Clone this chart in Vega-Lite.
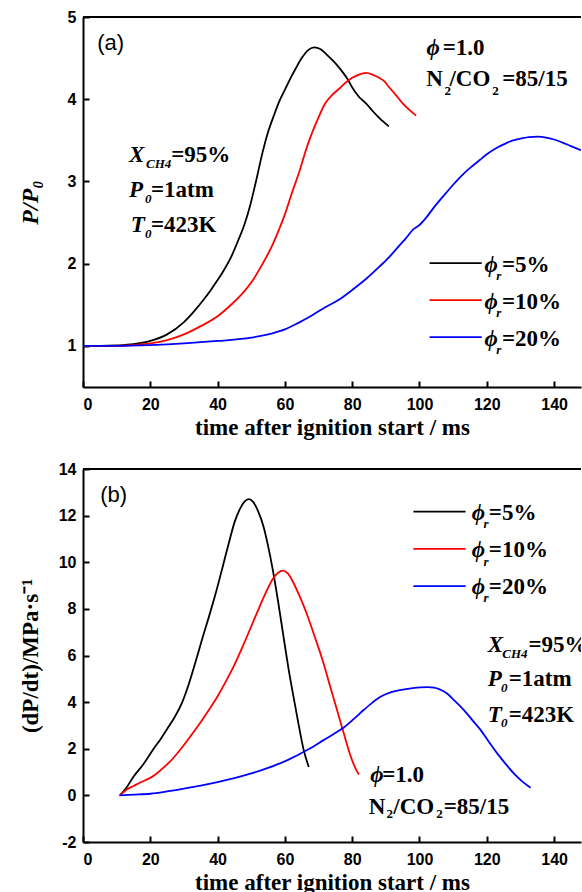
{
  "$schema": "https://vega.github.io/schema/vega-lite/v6.json",
  "autosize": {"type": "pad"},
  "padding": {"left": 18, "top": 9, "right": 0, "bottom": 0},
  "spacing": 22,
  "config": {
    "view": {"stroke": null},
    "axis": {
      "domainColor": "#000", "domainWidth": 2, "tickColor": "#000", "tickWidth": 2, "tickSize": -6,
      "grid": false, "labelFont": "Liberation Sans", "labelFontWeight": "bold", "labelFontSize": 16,
      "labelColor": "#000", "titleFont": "Liberation Serif", "titleFontWeight": "bold",
      "titleColor": "#000", "titleFontSize": 23
    },
    "axisX": {"labelPadding": 15, "titlePadding": 4},
    "axisY": {"labelPadding": 13},
    "text": {"font": "Liberation Serif", "fontWeight": "bold", "fontSize": 23, "fill": "#000", "align": "left", "baseline": "alphabetic"}
  },
  "datasets": {
    "curvesA": [
      {"series": "5%", "t": 0, "v": 1.0}, {"series": "5%", "t": 5, "v": 1.0}, {"series": "5%", "t": 10, "v": 1.005},
      {"series": "5%", "t": 15, "v": 1.02}, {"series": "5%", "t": 20, "v": 1.06}, {"series": "5%", "t": 25, "v": 1.14},
      {"series": "5%", "t": 30, "v": 1.29}, {"series": "5%", "t": 33, "v": 1.42}, {"series": "5%", "t": 36, "v": 1.57},
      {"series": "5%", "t": 38, "v": 1.68}, {"series": "5%", "t": 40, "v": 1.8}, {"series": "5%", "t": 42, "v": 1.93},
      {"series": "5%", "t": 44, "v": 2.08}, {"series": "5%", "t": 46, "v": 2.27}, {"series": "5%", "t": 48, "v": 2.48},
      {"series": "5%", "t": 49.5, "v": 2.68}, {"series": "5%", "t": 51.4, "v": 3.0}, {"series": "5%", "t": 53.4, "v": 3.36},
      {"series": "5%", "t": 55, "v": 3.6}, {"series": "5%", "t": 56.8, "v": 3.81}, {"series": "5%", "t": 58.3, "v": 3.97},
      {"series": "5%", "t": 60.3, "v": 4.14}, {"series": "5%", "t": 62, "v": 4.28}, {"series": "5%", "t": 63.3, "v": 4.38},
      {"series": "5%", "t": 65, "v": 4.5}, {"series": "5%", "t": 67, "v": 4.6}, {"series": "5%", "t": 68.8, "v": 4.63},
      {"series": "5%", "t": 70.5, "v": 4.61}, {"series": "5%", "t": 72.5, "v": 4.54}, {"series": "5%", "t": 74.5, "v": 4.46},
      {"series": "5%", "t": 76.2, "v": 4.38}, {"series": "5%", "t": 78.7, "v": 4.24}, {"series": "5%", "t": 80.2, "v": 4.13},
      {"series": "5%", "t": 82, "v": 4.03}, {"series": "5%", "t": 84.1, "v": 3.95}, {"series": "5%", "t": 86, "v": 3.86},
      {"series": "5%", "t": 88.1, "v": 3.77}, {"series": "5%", "t": 90.9, "v": 3.67},
      {"series": "10%", "t": 0, "v": 1.0}, {"series": "10%", "t": 10, "v": 1.0}, {"series": "10%", "t": 15, "v": 1.01},
      {"series": "10%", "t": 20, "v": 1.03}, {"series": "10%", "t": 25, "v": 1.07}, {"series": "10%", "t": 30, "v": 1.14},
      {"series": "10%", "t": 35, "v": 1.24}, {"series": "10%", "t": 40, "v": 1.36}, {"series": "10%", "t": 44, "v": 1.5},
      {"series": "10%", "t": 47, "v": 1.62}, {"series": "10%", "t": 50, "v": 1.77}, {"series": "10%", "t": 53.4, "v": 2.0},
      {"series": "10%", "t": 56, "v": 2.2}, {"series": "10%", "t": 58.3, "v": 2.42}, {"series": "10%", "t": 60, "v": 2.6},
      {"series": "10%", "t": 62, "v": 2.85}, {"series": "10%", "t": 64.3, "v": 3.12}, {"series": "10%", "t": 66, "v": 3.35},
      {"series": "10%", "t": 67.5, "v": 3.53}, {"series": "10%", "t": 70, "v": 3.78}, {"series": "10%", "t": 72, "v": 3.95},
      {"series": "10%", "t": 74, "v": 4.05}, {"series": "10%", "t": 76.2, "v": 4.13}, {"series": "10%", "t": 78, "v": 4.2},
      {"series": "10%", "t": 80, "v": 4.26}, {"series": "10%", "t": 82, "v": 4.3}, {"series": "10%", "t": 84.1, "v": 4.32},
      {"series": "10%", "t": 86, "v": 4.3}, {"series": "10%", "t": 88, "v": 4.26}, {"series": "10%", "t": 89.5, "v": 4.22},
      {"series": "10%", "t": 91.1, "v": 4.14}, {"series": "10%", "t": 93, "v": 4.05}, {"series": "10%", "t": 95, "v": 3.95},
      {"series": "10%", "t": 97, "v": 3.87}, {"series": "10%", "t": 99, "v": 3.8},
      {"series": "20%", "t": 0, "v": 1.0}, {"series": "20%", "t": 10, "v": 1.0}, {"series": "20%", "t": 20, "v": 1.01},
      {"series": "20%", "t": 30, "v": 1.03}, {"series": "20%", "t": 40, "v": 1.06}, {"series": "20%", "t": 50, "v": 1.1},
      {"series": "20%", "t": 56, "v": 1.15}, {"series": "20%", "t": 60, "v": 1.2}, {"series": "20%", "t": 64, "v": 1.28},
      {"series": "20%", "t": 68, "v": 1.37}, {"series": "20%", "t": 72, "v": 1.47}, {"series": "20%", "t": 76, "v": 1.56},
      {"series": "20%", "t": 80, "v": 1.68}, {"series": "20%", "t": 84, "v": 1.81}, {"series": "20%", "t": 88, "v": 1.96},
      {"series": "20%", "t": 91, "v": 2.08}, {"series": "20%", "t": 94, "v": 2.22}, {"series": "20%", "t": 96, "v": 2.31},
      {"series": "20%", "t": 98, "v": 2.41}, {"series": "20%", "t": 100, "v": 2.47}, {"series": "20%", "t": 102, "v": 2.56},
      {"series": "20%", "t": 104, "v": 2.67}, {"series": "20%", "t": 106, "v": 2.77}, {"series": "20%", "t": 107.9, "v": 2.86},
      {"series": "20%", "t": 110, "v": 2.96}, {"series": "20%", "t": 113, "v": 3.09}, {"series": "20%", "t": 115.5, "v": 3.18},
      {"series": "20%", "t": 117.9, "v": 3.26}, {"series": "20%", "t": 120, "v": 3.33}, {"series": "20%", "t": 123, "v": 3.41},
      {"series": "20%", "t": 125.5, "v": 3.46}, {"series": "20%", "t": 127.8, "v": 3.5}, {"series": "20%", "t": 130, "v": 3.52},
      {"series": "20%", "t": 132.5, "v": 3.54}, {"series": "20%", "t": 135.2, "v": 3.545}, {"series": "20%", "t": 138, "v": 3.53},
      {"series": "20%", "t": 140, "v": 3.51}, {"series": "20%", "t": 142.7, "v": 3.47}, {"series": "20%", "t": 145, "v": 3.43},
      {"series": "20%", "t": 148, "v": 3.38}
    ],
    "curvesB": [
      {"series": "5%", "t": 11, "v": 0}, {"series": "5%", "t": 13, "v": 0.35}, {"series": "5%", "t": 15, "v": 0.8},
      {"series": "5%", "t": 18, "v": 1.35}, {"series": "5%", "t": 21, "v": 2.0}, {"series": "5%", "t": 23, "v": 2.4},
      {"series": "5%", "t": 25, "v": 2.85}, {"series": "5%", "t": 27, "v": 3.3}, {"series": "5%", "t": 29.5, "v": 4.0},
      {"series": "5%", "t": 31.5, "v": 4.8}, {"series": "5%", "t": 33.5, "v": 5.75}, {"series": "5%", "t": 35.5, "v": 6.75},
      {"series": "5%", "t": 37.5, "v": 7.7}, {"series": "5%", "t": 39.5, "v": 8.7}, {"series": "5%", "t": 41.5, "v": 9.8},
      {"series": "5%", "t": 43.3, "v": 10.8}, {"series": "5%", "t": 45, "v": 11.7}, {"series": "5%", "t": 46.5, "v": 12.25},
      {"series": "5%", "t": 48, "v": 12.6}, {"series": "5%", "t": 49.2, "v": 12.71},
      {"series": "5%", "t": 50.5, "v": 12.6}, {"series": "5%", "t": 52, "v": 12.2}, {"series": "5%", "t": 53.7, "v": 11.5},
      {"series": "5%", "t": 55, "v": 10.7}, {"series": "5%", "t": 56.5, "v": 9.6}, {"series": "5%", "t": 58, "v": 8.3},
      {"series": "5%", "t": 59.6, "v": 6.8}, {"series": "5%", "t": 61, "v": 5.5}, {"series": "5%", "t": 62.6, "v": 4.2},
      {"series": "5%", "t": 64, "v": 3.1}, {"series": "5%", "t": 65.6, "v": 1.94}, {"series": "5%", "t": 67.1, "v": 1.22},
      {"series": "10%", "t": 11, "v": 0}, {"series": "10%", "t": 13, "v": 0.25}, {"series": "10%", "t": 15, "v": 0.4},
      {"series": "10%", "t": 17, "v": 0.55}, {"series": "10%", "t": 20, "v": 0.75}, {"series": "10%", "t": 22, "v": 0.95},
      {"series": "10%", "t": 24, "v": 1.2}, {"series": "10%", "t": 26.5, "v": 1.55}, {"series": "10%", "t": 29, "v": 1.98},
      {"series": "10%", "t": 32, "v": 2.55}, {"series": "10%", "t": 35, "v": 3.15}, {"series": "10%", "t": 37.5, "v": 3.68},
      {"series": "10%", "t": 40, "v": 4.25}, {"series": "10%", "t": 42.5, "v": 4.9}, {"series": "10%", "t": 45, "v": 5.6},
      {"series": "10%", "t": 47.5, "v": 6.4}, {"series": "10%", "t": 50, "v": 7.25}, {"series": "10%", "t": 52.5, "v": 8.1},
      {"series": "10%", "t": 54.5, "v": 8.75}, {"series": "10%", "t": 56.5, "v": 9.3}, {"series": "10%", "t": 58, "v": 9.55},
      {"series": "10%", "t": 59.4, "v": 9.64}, {"series": "10%", "t": 61, "v": 9.5}, {"series": "10%", "t": 62.6, "v": 9.1},
      {"series": "10%", "t": 64.5, "v": 8.5}, {"series": "10%", "t": 66.6, "v": 7.75}, {"series": "10%", "t": 69, "v": 6.75},
      {"series": "10%", "t": 71.5, "v": 5.66}, {"series": "10%", "t": 73.5, "v": 4.65}, {"series": "10%", "t": 75.5, "v": 3.66},
      {"series": "10%", "t": 77.5, "v": 2.66}, {"series": "10%", "t": 79.5, "v": 1.7}, {"series": "10%", "t": 81, "v": 1.15},
      {"series": "10%", "t": 82, "v": 0.9},
      {"series": "20%", "t": 10.8, "v": 0}, {"series": "20%", "t": 15, "v": 0.03}, {"series": "20%", "t": 20, "v": 0.07},
      {"series": "20%", "t": 25, "v": 0.17}, {"series": "20%", "t": 30, "v": 0.29}, {"series": "20%", "t": 35, "v": 0.42},
      {"series": "20%", "t": 40, "v": 0.57}, {"series": "20%", "t": 45, "v": 0.74}, {"series": "20%", "t": 50, "v": 0.94},
      {"series": "20%", "t": 55, "v": 1.18}, {"series": "20%", "t": 59.6, "v": 1.44}, {"series": "20%", "t": 62, "v": 1.6},
      {"series": "20%", "t": 65.6, "v": 1.87}, {"series": "20%", "t": 68.5, "v": 2.1}, {"series": "20%", "t": 71.5, "v": 2.37},
      {"series": "20%", "t": 74.5, "v": 2.63}, {"series": "20%", "t": 77.5, "v": 2.91}, {"series": "20%", "t": 80.5, "v": 3.28},
      {"series": "20%", "t": 83.4, "v": 3.66}, {"series": "20%", "t": 86, "v": 3.98}, {"series": "20%", "t": 88.4, "v": 4.23},
      {"series": "20%", "t": 91, "v": 4.4}, {"series": "20%", "t": 93.4, "v": 4.49}, {"series": "20%", "t": 96, "v": 4.56},
      {"series": "20%", "t": 98, "v": 4.6}, {"series": "20%", "t": 100.3, "v": 4.63}, {"series": "20%", "t": 102.5, "v": 4.64},
      {"series": "20%", "t": 104.3, "v": 4.62}, {"series": "20%", "t": 106, "v": 4.55}, {"series": "20%", "t": 108.2, "v": 4.37},
      {"series": "20%", "t": 110.5, "v": 4.05}, {"series": "20%", "t": 113.2, "v": 3.66}, {"series": "20%", "t": 115.7, "v": 3.23},
      {"series": "20%", "t": 118.2, "v": 2.8}, {"series": "20%", "t": 120.6, "v": 2.3}, {"series": "20%", "t": 123.1, "v": 1.8},
      {"series": "20%", "t": 125.6, "v": 1.35}, {"series": "20%", "t": 128.1, "v": 0.93}, {"series": "20%", "t": 130.5, "v": 0.6},
      {"series": "20%", "t": 133, "v": 0.33}
    ],
    "legendA": [
      {"series": "5%", "t": 103, "t2": 118.5, "v": 2.007},
      {"series": "10%", "t": 103, "t2": 118.5, "v": 1.557},
      {"series": "20%", "t": 103, "t2": 118.5, "v": 1.107}
    ],
    "legendB": [
      {"series": "5%", "t": 98.2, "t2": 113.7, "v": 12.17},
      {"series": "10%", "t": 98.2, "t2": 113.7, "v": 10.57},
      {"series": "20%", "t": 98.2, "t2": 113.7, "v": 8.98}
    ],
    "a_main": [
      {"t": 26.2, "v": 3.236, "text": "=95%"}, {"t": 20.2, "v": 2.81, "text": "=1atm"}, {"t": 20.2, "v": 2.384, "text": "=423K"},
      {"t": 106.9, "v": 4.538, "text": "=1.0"}, {"t": 102.0, "v": 4.16, "text": "N"}, {"t": 108.9, "v": 4.16, "text": "/CO"},
      {"t": 124.6, "v": 4.16, "text": "=85/15"},
      {"t": 124.5, "v": 1.901, "text": "=5%"}, {"t": 124.5, "v": 1.451, "text": "=10%"}, {"t": 124.5, "v": 1.001, "text": "=20%"}
    ],
    "a_ital": [
      {"t": 13.7, "v": 3.236, "text": "X"}, {"t": 13.7, "v": 2.81, "text": "P"}, {"t": 14.2, "v": 2.384, "text": "T"},
      {"t": 102.1, "v": 4.538, "text": "ϕ"},
      {"t": 119.3, "v": 1.901, "text": "ϕ"}, {"t": 119.3, "v": 1.451, "text": "ϕ"}, {"t": 119.3, "v": 1.001, "text": "ϕ"}
    ],
    "a_subi": [
      {"t": 18.75, "v": 3.163, "text": "CH4"}, {"t": 18.4, "v": 2.737, "text": "0"}, {"t": 18.4, "v": 2.31, "text": "0"},
      {"t": 122.8, "v": 1.8, "text": "r"}, {"t": 122.8, "v": 1.35, "text": "r"}, {"t": 122.8, "v": 0.9, "text": "r"}
    ],
    "a_sub": [
      {"t": 107.4, "v": 4.05, "text": "2"}, {"t": 121.6, "v": 4.05, "text": "2"}
    ],
    "a_tag": [{"t": 4.2, "v": 4.6, "text": "(a)"}],
    "b_main": [
      {"t": 132.4, "v": 6.16, "text": "=95%"}, {"t": 126.5, "v": 4.69, "text": "=1atm"}, {"t": 126.5, "v": 3.15, "text": "=423K"},
      {"t": 88.9, "v": 0.58, "text": "=1.0"}, {"t": 84.9, "v": -0.78, "text": "N"}, {"t": 92.2, "v": -0.78, "text": "/CO"},
      {"t": 107.2, "v": -0.78, "text": "=85/15"},
      {"t": 120.6, "v": 11.81, "text": "=5%"}, {"t": 120.6, "v": 10.22, "text": "=10%"}, {"t": 120.6, "v": 8.64, "text": "=20%"}
    ],
    "b_ital": [
      {"t": 120.3, "v": 6.16, "text": "X"}, {"t": 120.3, "v": 4.69, "text": "P"}, {"t": 120.3, "v": 3.15, "text": "T"},
      {"t": 85.4, "v": 0.58, "text": "ϕ"},
      {"t": 115.5, "v": 11.81, "text": "ϕ"}, {"t": 115.5, "v": 10.22, "text": "ϕ"}, {"t": 115.5, "v": 8.64, "text": "ϕ"}
    ],
    "b_subi": [
      {"t": 124.6, "v": 5.89, "text": "CH4"}, {"t": 124.2, "v": 4.44, "text": "0"}, {"t": 124.2, "v": 2.93, "text": "0"},
      {"t": 119.0, "v": 11.45, "text": "r"}, {"t": 119.0, "v": 9.86, "text": "r"}, {"t": 119.0, "v": 8.28, "text": "r"}
    ],
    "b_sub": [
      {"t": 90.2, "v": -0.99, "text": "2"}, {"t": 105.0, "v": -0.99, "text": "2"}
    ],
    "b_tag": [{"t": 5.1, "v": 12.6, "text": "(b)"}]
  },
  "vconcat": [
    {
      "width": 498, "height": 370,
      "layer": [
        {
          "data": {"name": "curvesA"},
          "mark": {"type": "line", "strokeWidth": 1.8, "clip": true, "interpolate": "monotone"},
          "encoding": {
            "x": {"field": "t", "type": "quantitative", "scale": {"domain": [0, 148], "nice": false, "zero": false},
                  "axis": {"values": [0, 20, 40, 60, 80, 100, 120, 140], "title": "time after ignition start / ms"}},
            "y": {"field": "v", "type": "quantitative", "scale": {"domain": [0.5, 5], "nice": false, "zero": false},
                  "axis": {"values": [1, 2, 3, 4, 5], "labelExpr": "datum.value", "title": "P/P₀", "titleFontStyle": "italic", "titleFontSize": 24, "titleX": -53, "titleBaseline": "middle"}},
            "color": {"field": "series", "type": "nominal", "scale": {"domain": ["5%", "10%", "20%"], "range": ["#000000", "#ff0000", "#0000ff"]}, "legend": null},
            "order": {"field": "t", "type": "quantitative"}
          }
        },
        {
          "data": {"values": [{"edge": "top"}]},
          "mark": {"type": "rule", "color": "#000", "strokeWidth": 2},
          "encoding": {"y": {"datum": 5, "type": "quantitative"}}
        },
        {
          "data": {"name": "legendA"},
          "mark": {"type": "rule", "strokeWidth": 1.8},
          "encoding": {
            "x": {"field": "t", "type": "quantitative"}, "x2": {"field": "t2"},
            "y": {"field": "v", "type": "quantitative"},
            "color": {"field": "series", "type": "nominal", "legend": null}
          }
        },
        {
          "data": {"name": "a_main"},
          "mark": {"type": "text"},
          "encoding": {"x": {"field": "t", "type": "quantitative"}, "y": {"field": "v", "type": "quantitative"}, "text": {"field": "text"}}
        },
        {
          "data": {"name": "a_ital"},
          "mark": {"type": "text", "fontStyle": "italic"},
          "encoding": {"x": {"field": "t", "type": "quantitative"}, "y": {"field": "v", "type": "quantitative"}, "text": {"field": "text"}}
        },
        {
          "data": {"name": "a_subi"},
          "mark": {"type": "text", "fontStyle": "italic", "fontSize": 13},
          "encoding": {"x": {"field": "t", "type": "quantitative"}, "y": {"field": "v", "type": "quantitative"}, "text": {"field": "text"}}
        },
        {
          "data": {"name": "a_sub"},
          "mark": {"type": "text", "fontSize": 13},
          "encoding": {"x": {"field": "t", "type": "quantitative"}, "y": {"field": "v", "type": "quantitative"}, "text": {"field": "text"}}
        },
        {
          "data": {"name": "a_tag"},
          "mark": {"type": "text", "font": "Liberation Sans", "fontWeight": "normal", "fontSize": 22},
          "encoding": {"x": {"field": "t", "type": "quantitative"}, "y": {"field": "v", "type": "quantitative"}, "text": {"field": "text"}}
        }
      ]
    },
    {
      "width": 498, "height": 373,
      "layer": [
        {
          "data": {"name": "curvesB"},
          "mark": {"type": "line", "strokeWidth": 1.8, "clip": true, "interpolate": "monotone"},
          "encoding": {
            "x": {"field": "t", "type": "quantitative", "scale": {"domain": [0, 148], "nice": false, "zero": false},
                  "axis": {"values": [0, 20, 40, 60, 80, 100, 120, 140], "title": "time after ignition start / ms"}},
            "y": {"field": "v", "type": "quantitative", "scale": {"domain": [-2, 14], "nice": false, "zero": false},
                  "axis": {"values": [-2, 0, 2, 4, 6, 8, 10, 12, 14], "labelExpr": "datum.value", "title": "(dP/dt)/MPa·s⁻¹", "titleX": -53, "titleBaseline": "middle"}},
            "color": {"field": "series", "type": "nominal", "scale": {"domain": ["5%", "10%", "20%"], "range": ["#000000", "#ff0000", "#0000ff"]}, "legend": null},
            "order": {"field": "t", "type": "quantitative"}
          }
        },
        {
          "data": {"values": [{"edge": "top"}]},
          "mark": {"type": "rule", "color": "#000", "strokeWidth": 2},
          "encoding": {"y": {"datum": 14, "type": "quantitative"}}
        },
        {
          "data": {"name": "legendB"},
          "mark": {"type": "rule", "strokeWidth": 1.8},
          "encoding": {
            "x": {"field": "t", "type": "quantitative"}, "x2": {"field": "t2"},
            "y": {"field": "v", "type": "quantitative"},
            "color": {"field": "series", "type": "nominal", "legend": null}
          }
        },
        {
          "data": {"name": "b_main"},
          "mark": {"type": "text", "clip": true},
          "encoding": {"x": {"field": "t", "type": "quantitative"}, "y": {"field": "v", "type": "quantitative"}, "text": {"field": "text"}}
        },
        {
          "data": {"name": "b_ital"},
          "mark": {"type": "text", "fontStyle": "italic"},
          "encoding": {"x": {"field": "t", "type": "quantitative"}, "y": {"field": "v", "type": "quantitative"}, "text": {"field": "text"}}
        },
        {
          "data": {"name": "b_subi"},
          "mark": {"type": "text", "fontStyle": "italic", "fontSize": 13},
          "encoding": {"x": {"field": "t", "type": "quantitative"}, "y": {"field": "v", "type": "quantitative"}, "text": {"field": "text"}}
        },
        {
          "data": {"name": "b_sub"},
          "mark": {"type": "text", "fontSize": 13},
          "encoding": {"x": {"field": "t", "type": "quantitative"}, "y": {"field": "v", "type": "quantitative"}, "text": {"field": "text"}}
        },
        {
          "data": {"name": "b_tag"},
          "mark": {"type": "text", "font": "Liberation Sans", "fontWeight": "normal", "fontSize": 22},
          "encoding": {"x": {"field": "t", "type": "quantitative"}, "y": {"field": "v", "type": "quantitative"}, "text": {"field": "text"}}
        }
      ]
    }
  ]
}
